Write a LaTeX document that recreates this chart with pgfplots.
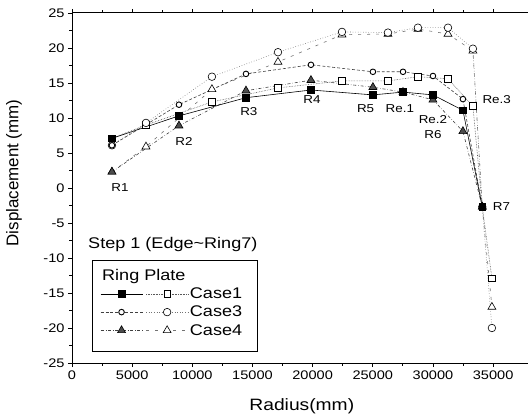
\documentclass[border=0pt]{standalone}
\usepackage{pgfplots}
\pgfplotsset{compat=1.18}
\usepackage{fontspec}
\setmainfont{Liberation Sans}[FakeStretch=1.17]
\newfontfamily\plainfont{Liberation Sans}

\pgfplotsset{
  c1f/.style={black, solid, line width=0.6bp, mark=square*, mark size=3.3bp, mark options={solid, draw=black, fill=black}},
  c1o/.style={black!65, densely dotted, line width=0.6bp, mark=square*, mark size=3.3bp, mark options={solid, draw=black, fill=white}},
  c3f/.style={black!75, densely dashed, line width=0.6bp, mark=*, mark size=2.8bp, mark options={solid, draw=black, fill=white, line width=0.9bp}},
  c3o/.style={black!55, dotted, line width=0.6bp, mark=*, mark size=3.8bp, mark options={solid, draw=black, fill=white}},
  c4f/.style={black!75, dash dot, line width=0.6bp, mark=triangle*, mark size=4.6bp, mark options={solid, draw=black, fill=black!70}},
  c4o/.style={black!55, loosely dashed, line width=0.6bp, mark=triangle*, mark size=4.6bp, mark options={solid, draw=black, fill=white}},
}

\begin{document}
\begin{tikzpicture}[font=\fontsize{15.5}{18}\selectfont]
\useasboundingbox (0,0) rectangle (528bp,416bp);
\begin{axis}[
  at={(72bp,53bp)}, anchor=south west,
  scale only axis, width=456bp, height=350bp,
  xmin=0, xmax=37900, ymin=-25, ymax=25,
  axis x line*=box, axis y line*=left,
  axis line style={-, line width=1bp},
  xtick={0,5000,...,35000}, ytick={-25,-20,...,25},
  minor x tick num=1, minor y tick num=1,
  tick align=outside,
  major tick length=4bp, minor tick length=2.5bp,
  tick style={black, line width=0.8bp},
  scaled x ticks=false,
  tick label style={font=\fontsize{12.5}{14}\selectfont},
  xticklabel style={/pgf/number format/.cd, set thousands separator={}, assume math mode=true},
  yticklabel style={/pgf/number format/.cd, assume math mode=true},
  xlabel={Radius(mm)}, ylabel={Displacement (mm)},
  xlabel style={at={(axis description cs:0.504,-0.123)}, anchor=center, font=\fontsize{16.5}{19}\selectfont},
  ylabel style={at={(axis description cs:-0.127,0.543)}, anchor=center, font=\plainfont\fontsize{17}{19}\selectfont},
  legend columns=2,
  legend style={at={(axis cs:2330,-14.0)}, anchor=north west, draw=none, fill=none,
    inner sep=0pt, row sep=3bp, column sep=0pt,
    nodes={inner sep=1.5bp, anchor=west}},
  legend image code/.code={\draw[mark repeat=2,mark phase=2,#1] plot coordinates {(0bp,0bp) (21bp,0bp) (42bp,0bp)};},
]
% open series first (drawn beneath)
\addplot[c1o, forget plot] coordinates {
 (3320,7.1) (6150,9.0) (11630,12.3) (17120,14.3) (22440,15.3) (26260,15.3) (28750,15.9) (31250,15.6) (33320,11.7) (34100,-2.7) (34900,-12.9)};
\addplot[c4o, forget plot] coordinates {
 (3320,2.3) (6150,5.9) (11630,14.1) (17120,18.0) (22440,21.9) (26260,22.0) (28750,22.7) (31250,22.0) (33320,19.6) (34100,-2.7) (34900,-17.0)};
\addplot[c3o, forget plot] coordinates {
 (3320,6.1) (6150,9.3) (11630,15.9) (17120,19.4) (22440,22.3) (26260,22.2) (28750,22.9) (31250,22.9) (33320,19.9) (34100,-2.7) (34900,-20.0)};
% filled series
\addplot[c3f, forget plot] coordinates {
 (3320,6.1) (8890,11.9) (14460,16.3) (19860,17.6) (25010,16.6) (27510,16.6) (30000,16.0) (32490,12.7) (34100,-2.7)};
\addplot[c4f, forget plot] coordinates {
 (3320,2.3) (8890,8.9) (14460,13.9) (19860,15.4) (25010,14.4) (27510,13.7) (30000,12.6) (32490,8.1) (34100,-2.7)};
\addplot[c1f, forget plot] coordinates {
 (3320,7.1) (8890,10.3) (14460,12.9) (19860,14.0) (25010,13.3) (27510,13.7) (30000,13.3) (32490,11.1) (34100,-2.7)};

\addlegendimage{c1f}\addlegendentry{}
\addlegendimage{c1o}\addlegendentry{Case1}
\addlegendimage{c3f}\addlegendentry{}
\addlegendimage{c3o}\addlegendentry{Case3}
\addlegendimage{c4f}\addlegendentry{}
\addlegendimage{c4o}\addlegendentry{Case4}

\draw[black, line width=0.8bp] (axis cs:1660,-10.4) rectangle (axis cs:15380,-23.4);
\node[anchor=west, inner sep=0pt] at (axis cs:2490,-12.7) {Ring Plate};
\node[anchor=west, inner sep=0pt] at (axis cs:1330,-8.1) {Step 1 (Edge\char`\~Ring7)};

\begin{scope}[every node/.style={font=\fontsize{11.5}{13}\selectfont, inner sep=0pt}]
\node at (axis cs:3990,0.0) {R1};
\node at (axis cs:9300,6.6) {R2};
\node at (axis cs:14700,10.9) {R3};
\node at (axis cs:19950,12.7) {R4};
\node at (axis cs:24400,11.4) {R5};
\node at (axis cs:27250,11.4) {Re.1};
\node at (axis cs:30000,9.8) {Re.2};
\node at (axis cs:30000,7.6) {R6};
\node at (axis cs:35300,12.7) {Re.3};
\node at (axis cs:35700,-2.7) {R7};
\end{scope}
\end{axis}
\end{tikzpicture}
\end{document}
